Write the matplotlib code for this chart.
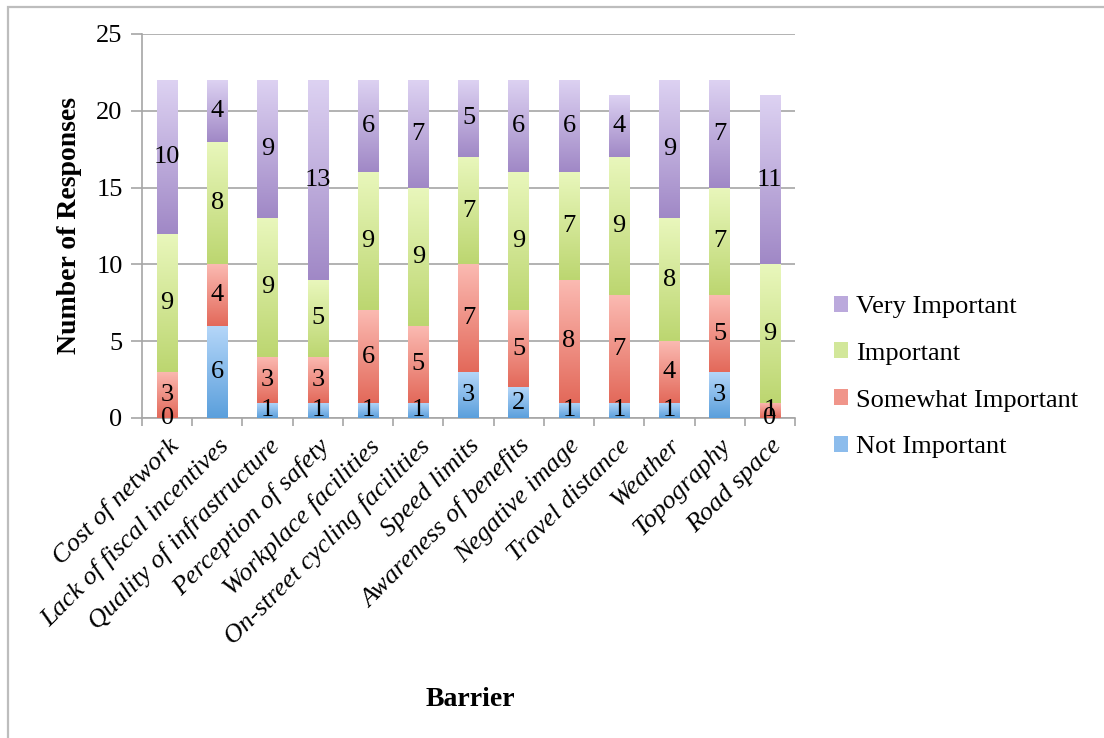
import numpy as np
import matplotlib
matplotlib.use("Agg")
import matplotlib.pyplot as plt
from matplotlib.colors import LinearSegmentedColormap
from matplotlib.patches import Patch, Rectangle

barriers = ["Cost of network", "Lack of fiscal incentives", "Quality of infrastructure",
            "Perception of safety", "Workplace facilities", "On-street cycling facilities",
            "Speed limits", "Awareness of benefits", "Negative image", "Travel distance",
            "Weather", "Topography", "Road space"]

not_important = [0, 6, 1, 1, 1, 1, 3, 2, 1, 1, 1, 3, 0]
somewhat_important = [3, 4, 3, 3, 6, 5, 7, 5, 8, 7, 4, 5, 1]
important = [9, 8, 9, 5, 9, 9, 7, 9, 7, 9, 8, 7, 9]
very_important = [10, 4, 9, 13, 6, 7, 5, 6, 6, 4, 9, 7, 11]

series_names = ["Not Important", "Somewhat Important", "Important", "Very Important"]
series_values = [not_important, somewhat_important, important, very_important]

# (bottom colour, top colour) of each series' vertical gradient
gradients = [("#5a9fdc", "#b6d7f9"),
             ("#e3695a", "#fbbab2"),
             ("#bcd670", "#e9f7bc"),
             ("#a088c6", "#ddd2f2")]
legend_colors = ["#8cbcec", "#f0958a", "#d2e79a", "#bba9dc"]

serif = "Liberation Serif"

fig = plt.figure(figsize=(11.04, 7.38), dpi=100)
ax = fig.add_axes([142 / 1104, 1 - 418 / 738, (795 - 142) / 1104, (418 - 34) / 738])

# thin outer frame of the chart area
fig.patches.append(Rectangle((8 / 1104, -0.1), 1.2, 1 - 7 / 738 + 0.1,
                             transform=fig.transFigure, fill=False,
                             edgecolor="#bdbdbd", linewidth=1.6, zorder=0))

x = np.arange(len(barriers))
width = 0.41
bottom = np.zeros(len(barriers))
grad = np.linspace(0, 1, 256).reshape(-1, 1)

for name, vals, (c0, c1) in zip(series_names, series_values, gradients):
    vals = np.array(vals, dtype=float)
    bars = ax.bar(x, vals, width, bottom=bottom, color=c0, linewidth=0, zorder=2)
    cmap = LinearSegmentedColormap.from_list(name, [c0, c1])
    for rect, v, b in zip(bars, vals, bottom):
        if v > 0:
            im = ax.imshow(grad, cmap=cmap, origin="lower", aspect="auto",
                           extent=(rect.get_x(), rect.get_x() + rect.get_width(), b, b + v),
                           zorder=3, interpolation="bilinear")
            im.set_clip_path(rect)
    for xi, v, b in zip(x, vals, bottom):
        if v > 0 or name == "Not Important":
            ax.text(xi, b + v / 2, f"{int(v)}", ha="center", va="center",
                    fontsize=19, family=serif, color="black", zorder=5)
    bottom += vals

ax.set_xlim(-0.5, len(barriers) - 0.5)
ax.set_ylim(0, 25)
ax.set_yticks(range(0, 26, 5))
ax.tick_params(axis="y", labelsize=19, length=8, width=1.2, color="#a6a6a6", pad=6)
for lab in ax.get_yticklabels():
    lab.set_family(serif)

ax.set_xticks(x)
ax.set_xticklabels(barriers, rotation=45, ha="right", rotation_mode="anchor",
                   fontsize=19, family=serif, style="italic")
ax.set_xticks(np.arange(-0.5, len(barriers), 1), minor=True)
ax.tick_params(axis="x", which="major", length=0, pad=12)
ax.tick_params(axis="x", which="minor", length=6, width=1.2, color="#a6a6a6")

ax.grid(axis="y", color="#a6a6a6", linewidth=1.2, zorder=0)
ax.set_axisbelow(True)
for side in ["top", "right"]:
    ax.spines[side].set_visible(False)
for side in ["left", "bottom"]:
    ax.spines[side].set_color("#a6a6a6")
    ax.spines[side].set_linewidth(1.2)

ax.set_ylabel("Number of Responses", fontsize=20, family=serif, fontweight="bold", labelpad=10)
fig.text(470 / 1104, 1 - 700 / 738, "Barrier", fontsize=20, family=serif,
         fontweight="bold", ha="center", va="center")

handles = [Patch(facecolor=legend_colors[i], edgecolor="none") for i in range(3, -1, -1)]
labels = [series_names[i] for i in range(3, -1, -1)]
fig.legend(handles, labels, loc="center left", bbox_to_anchor=(810 / 1104, 1 - 377 / 738),
           frameon=False, prop={"family": serif, "size": 19}, handlelength=0.55,
           handleheight=0.55, handletextpad=0.3, labelspacing=0.93)

fig.savefig("out.png", dpi=100)
